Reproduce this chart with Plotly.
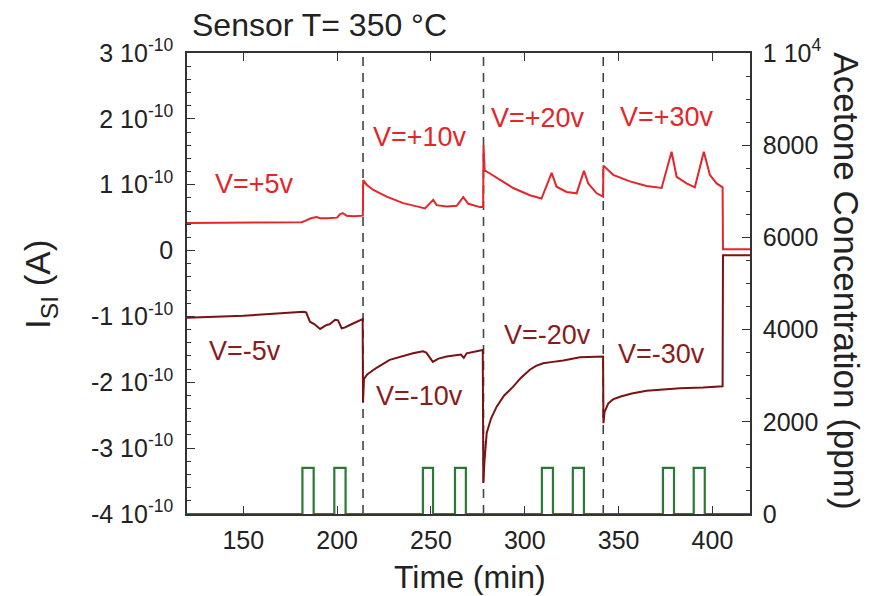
import plotly.graph_objects as go

# ---------------- data ----------------
# Positive bias current (units of 1e-10 A)
pos_time = [120, 140, 160, 181, 183, 186, 189, 191, 195, 200, 201.5, 203, 205, 209, 213.7,
            213.9, 215.7, 219.3, 226.4, 235.2, 244.1, 246.8, 251.2, 253, 258.4, 263.7, 267.2, 269.9, 276.1, 277.8,
            278.0, 278.6, 281.4, 286.8, 293.8, 302.7, 308.9, 314.3, 316.9, 322.3, 327.6, 331.5, 333.8, 338.3, 341.7,
            341.9, 347.1, 356.0, 364.9, 372.9, 378.2, 380.9, 386.2, 390.6, 395.4, 398.6, 402.2, 405.4,
            405.6, 420]
pos_current = [0.42, 0.42, 0.42, 0.43, 0.45, 0.49, 0.51, 0.49, 0.49, 0.50, 0.55, 0.57, 0.53, 0.52, 0.53,
               1.07, 1.00, 0.92, 0.82, 0.72, 0.66, 0.64, 0.77, 0.69, 0.67, 0.68, 0.81, 0.71, 0.66, 0.66,
               1.60, 1.22, 1.17, 1.07, 0.95, 0.84, 0.79, 1.18, 0.97, 0.89, 0.87, 1.21, 1.02, 0.87, 0.82,
               1.29, 1.15, 1.05, 0.98, 0.95, 1.50, 1.12, 1.02, 0.96, 1.50, 1.15, 1.02, 0.96,
               0.02, 0.02]

# Negative bias current (units of 1e-10 A)
neg_time = [120, 150, 170, 182, 183.5, 185.5, 188, 190.9, 194.4, 196, 198.9, 200.5, 202.4, 204, 206.8, 210, 213.6,
            213.8, 214.3, 216, 221, 228, 235, 240.4, 245.7, 247.5, 251, 254, 258.4, 262, 266, 267.5, 269, 277.6,
            277.9, 278.5, 279.7, 282, 285, 289, 293.7, 298, 302.7, 306, 309.8, 315, 320.5, 329.4, 341.7,
            341.9, 342.5, 344.5, 347, 350.7, 357, 364.9, 372, 382.7, 395, 405.4,
            405.6, 420]
neg_current = [-1.02, -0.99, -0.95, -0.93, -0.94, -1.08, -1.12, -1.19, -1.13, -1.12, -1.05, -1.06, -1.18, -1.17, -1.13, -1.09, -1.04,
               -2.31, -1.95, -1.88, -1.78, -1.66, -1.60, -1.56, -1.53, -1.55, -1.69, -1.64, -1.61, -1.60, -1.58, -1.63, -1.56, -1.51,
               -3.53, -3.20, -2.77, -2.55, -2.37, -2.20, -2.07, -1.93, -1.81, -1.75, -1.71, -1.69, -1.67, -1.62, -1.61,
               -2.62, -2.45, -2.32, -2.26, -2.22, -2.17, -2.13, -2.11, -2.09, -2.08, -2.06,
               -0.07, -0.07]

# Acetone concentration pulses (ppm)
gas_time = [120, 181.5, 181.5, 187.5, 187.5, 198.5, 198.5, 204.5, 204.5,
            245.7, 245.7, 251.1, 251.1, 262.8, 262.8, 268.6, 268.6,
            309.1, 309.1, 315.0, 315.0, 325.6, 325.6, 331.5, 331.5,
            373.6, 373.6, 379.5, 379.5, 390.0, 390.0, 395.9, 395.9, 420]
gas_ppm = [0, 0, 1000, 1000, 0, 0, 1000, 1000, 0,
           0, 1000, 1000, 0, 0, 1000, 1000, 0,
           0, 1000, 1000, 0, 0, 1000, 1000, 0,
           0, 1000, 1000, 0, 0, 1000, 1000, 0, 0]

switch_times = [213.8, 278.0, 341.8]

pos_labels = ["V=+5v", "V=+10v", "V=+20v", "V=+30v"]
pos_label_x = [156, 244, 307, 376]
pos_label_y = [1.01, 1.72, 2.01, 2.03]
neg_labels = ["V=-5v", "V=-10v", "V=-20v", "V=-30v"]
neg_label_x = [151, 244, 312, 373]
neg_label_y = [-1.52, -2.21, -1.28, -1.57]

left_tickvals = [-4, -3, -2, -1, 0, 1, 2, 3]
left_ticktext = ["-4 10<sup>-10</sup>", "-3 10<sup>-10</sup>", "-2 10<sup>-10</sup>", "-1 10<sup>-10</sup>",
                 "0", "1 10<sup>-10</sup>", "2 10<sup>-10</sup>", "3 10<sup>-10</sup>"]
right_tickvals = [0, 2000, 4000, 6000, 8000, 10000]
right_ticktext = ["0", "2000", "4000", "6000", "8000", "1 10<sup>4</sup>"]
x_tickvals = [150, 200, 250, 300, 350, 400]

# ---------------- style ----------------
RED = "#e3262a"
DARK = "#7a1214"
GREEN = "#2a7a35"
AXC = "#333333"
FONT = "Liberation Sans, Arial, sans-serif"
TICKF = dict(family=FONT, size=25, color="#222222")

fig = go.Figure()
fig.add_trace(go.Scatter(x=gas_time, y=gas_ppm, mode="lines", yaxis="y2",
                         line=dict(color=GREEN, width=2.2), showlegend=False))
fig.add_trace(go.Scatter(x=pos_time, y=pos_current, mode="lines",
                         line=dict(color=RED, width=2), showlegend=False))
fig.add_trace(go.Scatter(x=neg_time, y=neg_current, mode="lines",
                         line=dict(color=DARK, width=2), showlegend=False))

for t in switch_times:
    fig.add_shape(type="line", xref="x", yref="paper", x0=t, x1=t, y0=0, y1=1,
                  line=dict(color="#444444", width=1.6, dash="9px,7px"), layer="below")

annotations = []
for txt, x, y in zip(pos_labels, pos_label_x, pos_label_y):
    annotations.append(dict(x=x, y=y, xref="x", yref="y", text=txt, showarrow=False,
                            font=dict(family=FONT, size=27, color=RED)))
for txt, x, y in zip(neg_labels, neg_label_x, neg_label_y):
    annotations.append(dict(x=x, y=y, xref="x", yref="y", text=txt, showarrow=False,
                            font=dict(family=FONT, size=27, color="#8a1c1c")))

annotations.append(dict(x=0.005, y=1.061, xref="paper", yref="paper", xanchor="left", yanchor="middle",
                        text="Sensor T= 350 °C", showarrow=False,
                        font=dict(family=FONT, size=32, color="#222222")))
annotations.append(dict(x=0.503, y=-0.137, xref="paper", yref="paper", xanchor="center", yanchor="middle",
                        text="Time (min)", showarrow=False,
                        font=dict(family=FONT, size=32, color="#222222")))
annotations.append(dict(x=-0.261, y=0.497, xref="paper", yref="paper", xanchor="center", yanchor="middle",
                        text="I<sub>SI</sub> (A)", showarrow=False, textangle=-90,
                        font=dict(family=FONT, size=35, color="#222222")))
annotations.append(dict(x=1.172, y=0.505, xref="paper", yref="paper", xanchor="center", yanchor="middle",
                        text="Acetone Concentration (ppm)", showarrow=False, textangle=90,
                        font=dict(family=FONT, size=35, color="#222222")))

fig.update_layout(
    width=875, height=588,
    margin=dict(l=179, r=133, t=45, b=82, pad=0),
    paper_bgcolor="white", plot_bgcolor="white",
    showlegend=False,
    annotations=annotations,
    xaxis=dict(range=[120, 420], tickvals=x_tickvals, ticks="inside", ticklen=8, tickwidth=1.4,
               tickcolor=AXC, showline=True, linecolor=AXC, linewidth=1.6, mirror="ticks",
               showgrid=False, zeroline=False, tickfont=TICKF, ticklabelstandoff=3),
    yaxis=dict(range=[-4, 3], tickvals=left_tickvals, ticktext=left_ticktext, ticks="inside",
               ticklen=8, tickwidth=1.4, tickcolor=AXC, showline=True, linecolor=AXC, linewidth=1.6,
               mirror=True, showgrid=False, zeroline=False, tickfont=TICKF, ticklabelstandoff=7,
               minor=dict(dtick=0.2, tick0=0, ticks="inside", ticklen=4, tickcolor=AXC, showgrid=False)),
    yaxis2=dict(range=[0, 10000], overlaying="y", side="right", tickvals=right_tickvals,
                ticktext=right_ticktext, ticks="inside", ticklen=8, tickwidth=1.4, tickcolor=AXC,
                showline=True, linecolor=AXC, linewidth=1.6, showgrid=False, zeroline=False,
                tickfont=TICKF, ticklabelstandoff=6,
                minor=dict(dtick=500, tick0=0, ticks="inside", ticklen=4, tickcolor=AXC, showgrid=False)),
)

fig.write_html("out.html")
